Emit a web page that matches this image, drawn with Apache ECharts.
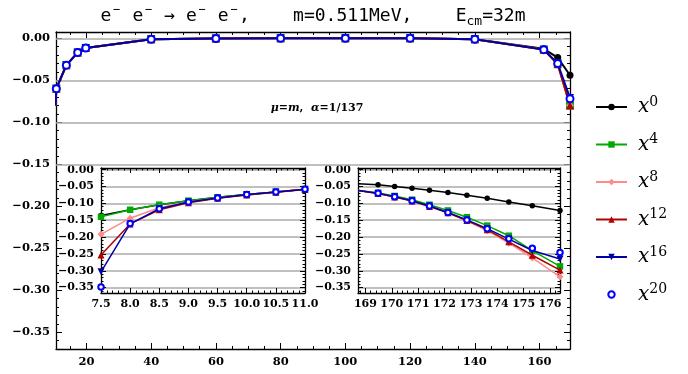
<!DOCTYPE html>
<html><head><meta charset="utf-8">
<script src="https://cdn.jsdelivr.net/npm/echarts@6/dist/echarts.min.js"></script>
<style>html,body{margin:0;padding:0;background:#fff}#c{width:688px;height:374px}</style>
</head><body><div id="c"></div>
<script>
// ---------- data ----------
const seriesNames = ['x0','x4','x8','x12','x16','x20'];
const legendSup = ['0','4','8','12','16','20'];

// main panel
const mainX   = [10.45, 10.7, 13.8, 17.3, 19.8, 40, 60, 80, 100, 120, 140, 161.3, 165.6, 169.4];
const mainY0  = [-0.08, -0.060, -0.032, -0.017, -0.0115, -0.0012, -0.0003, 0, 0, 0, -0.0012, -0.0125, -0.023, -0.044];
const mainY4  = [-0.08, -0.060, -0.032, -0.017, -0.0115, -0.0012, -0.0003, 0, 0, 0, -0.0012, -0.0135, -0.030, -0.080];
const mainY8  = [-0.08, -0.060, -0.032, -0.017, -0.0115, -0.0012, -0.0003, 0, 0, 0, -0.0012, -0.0135, -0.031, -0.080];
const mainY12 = [-0.08, -0.060, -0.032, -0.017, -0.0115, -0.0012, -0.0003, 0, 0, 0, -0.0012, -0.0135, -0.031, -0.080];
const mainY16 = [-0.08, -0.060, -0.032, -0.017, -0.0115, -0.0012, -0.0003, 0, 0, 0, -0.0012, -0.0135, -0.030, -0.071];
const mainY20 = [-0.08, -0.060, -0.032, -0.017, -0.0115, -0.0012, -0.0003, 0, 0, 0, -0.0012, -0.0135, -0.030, -0.072];

// left inset
const leftX   = [7.5, 8.0, 8.5, 9.0, 9.5, 10.0, 10.5, 11.0];
const leftY0  = [-0.136, -0.119, -0.104, -0.092, -0.082, -0.074, -0.066, -0.058];
const leftY4  = [-0.140, -0.119, -0.104, -0.092, -0.082, -0.074, -0.066, -0.058];
const leftY8  = [-0.192, -0.144, -0.113, -0.096, -0.084, -0.075, -0.066, -0.058];
const leftY12 = [-0.253, -0.161, -0.119, -0.098, -0.085, -0.075, -0.067, -0.059];
const leftY16 = [-0.303, -0.161, -0.116, -0.096, -0.084, -0.074, -0.066, -0.058];
const leftY20 = [-0.348, -0.160, -0.116, -0.096, -0.084, -0.074, -0.066, -0.058];

// right inset
const rightX   = [168.72, 169.48, 170.11, 170.77, 171.43, 172.13, 172.85, 173.62, 174.44, 175.33, 176.38];
const rightY0  = [-0.042, -0.045, -0.050, -0.055, -0.061, -0.068, -0.076, -0.085, -0.096, -0.107, -0.121];
const rightY4  = [-0.061, -0.069, -0.078, -0.089, -0.104, -0.121, -0.141, -0.166, -0.196, -0.240, -0.287];
const rightY8  = [-0.062, -0.071, -0.081, -0.093, -0.110, -0.129, -0.152, -0.181, -0.218, -0.262, -0.318];
const rightY12 = [-0.062, -0.071, -0.081, -0.093, -0.109, -0.128, -0.151, -0.178, -0.214, -0.254, -0.298];
const rightY16 = [-0.062, -0.070, -0.080, -0.092, -0.108, -0.127, -0.149, -0.175, -0.206, -0.240, -0.265];
const rightY20 = [-0.062, -0.070, -0.080, -0.092, -0.108, -0.127, -0.149, -0.175, -0.205, -0.233, -0.246];

// ticks
const mainXTicks  = [20, 40, 60, 80, 100, 120, 140, 160];
const yTicks      = [0, -0.05, -0.10, -0.15, -0.20, -0.25, -0.30, -0.35];
const rightXTicks = [169, 170, 171, 172, 173, 174, 175, 176];
const mainGridLines = [0, -0.05, -0.10, -0.15];

// ---------- helpers ----------
function steps(a, b, s){ const r=[]; for(let v=a; v<=b+1e-9; v+=s) r.push(+v.toFixed(4)); return r; }
const FONT = 'DejaVu Serif';
const K = '#000';
const GRIDC = '#ababab';
function fmt2(v){ return (Math.abs(v)<1e-9 ? '0.00' : v.toFixed(2)).replace('-', '\u2212'); }

function ax(gridIndex, position, min, max, extra){
  return Object.assign({
    type:'value', gridIndex, position, min, max, silent:true,
    axisLine:{show:true, onZero:false, lineStyle:{color:K, width:1.3}},
    axisTick:{show:false}, axisLabel:{show:false},
    splitLine:{show:false}, minorTick:{show:false}, minorSplitLine:{show:false}
  }, extra||{});
}
function tick(vals, len){ return {show:true, inside:true, length:len, customValues:vals, lineStyle:{color:K, width:1}}; }
function lab(vals, fmt, size, margin){ return {show:true, customValues:vals, formatter:fmt, fontFamily:FONT, fontWeight:'bold', fontSize:size, color:K, margin}; }
function minorAx(gridIndex, position, min, max, vals, len){
  return ax(gridIndex, position, min, max, {axisLine:{show:false, onZero:false}, axisTick:tick(vals, len)});
}

const MX = [10.6, 169.4], MY = [-0.37, 0.0075];
const LX = [7.5, 11.0], IY = [-0.366, 0.005];
const RX = [168.72, 176.38];

const mainXMinor = steps(15, 165, 5);
const mainYMinor = steps(-0.37, 0, 0.01);
const insetYMinor = steps(-0.36, 0, 0.01);
const rightXMinor = steps(168.8, 176.2, 0.2);

const xAxes = [
  ax(0,'bottom',MX[0],MX[1],{axisTick:tick(mainXTicks,6), axisLabel:lab(mainXTicks, v=>String(v), 11.5, 7)}),
  minorAx(0,'bottom',MX[0],MX[1],mainXMinor,3),
  ax(0,'top',MX[0],MX[1],{axisTick:tick(mainXTicks,6)}),
  minorAx(0,'top',MX[0],MX[1],mainXMinor,3),
  ax(1,'bottom',LX[0],LX[1],{interval:0.5, axisTick:{show:true,inside:true,length:5,lineStyle:{color:K}},
     minorTick:{show:true,splitNumber:5,length:2.5,lineStyle:{color:K}},
     axisLabel:{show:true, formatter:v=>v.toFixed(1), fontFamily:FONT, fontWeight:'bold', fontSize:11, color:K, margin:6}}),
  ax(1,'top',LX[0],LX[1],{interval:0.5, axisTick:{show:true,inside:true,length:5,lineStyle:{color:K}},
     minorTick:{show:true,splitNumber:5,length:2.5,lineStyle:{color:K}}}),
  ax(2,'bottom',RX[0],RX[1],{axisTick:tick(rightXTicks,5), axisLabel:lab(rightXTicks, v=>String(v), 11, 6)}),
  minorAx(2,'bottom',RX[0],RX[1],rightXMinor,2.5),
  ax(2,'top',RX[0],RX[1],{axisTick:tick(rightXTicks,5)}),
  minorAx(2,'top',RX[0],RX[1],rightXMinor,2.5)
];
const insetSplit = {show:true, lineStyle:{color:GRIDC, width:1.5}};
const yAxes = [
  ax(0,'left',MY[0],MY[1],{axisTick:tick(yTicks,6), axisLabel:lab(yTicks, fmt2, 11.5, 6)}),
  minorAx(0,'left',MY[0],MY[1],mainYMinor,3),
  ax(0,'right',MY[0],MY[1],{axisTick:tick(yTicks,6)}),
  minorAx(0,'right',MY[0],MY[1],mainYMinor,3),
  ax(1,'left',IY[0],IY[1],{axisTick:tick(yTicks,5), axisLabel:lab(yTicks, fmt2, 11, 7), splitLine:insetSplit}),
  minorAx(1,'left',IY[0],IY[1],insetYMinor,2.5),
  ax(1,'right',IY[0],IY[1],{axisTick:tick(yTicks,5)}),
  minorAx(1,'right',IY[0],IY[1],insetYMinor,2.5),
  ax(2,'left',IY[0],IY[1],{axisTick:tick(yTicks,5), axisLabel:lab(yTicks, fmt2, 11, 7), splitLine:insetSplit}),
  minorAx(2,'left',IY[0],IY[1],insetYMinor,2.5),
  ax(2,'right',IY[0],IY[1],{axisTick:tick(yTicks,5)}),
  minorAx(2,'right',IY[0],IY[1],insetYMinor,2.5)
];

const DOWN = 'path://M0,0 L10,0 L5,9 Z';
const sty = {
  x0:  {color:'#000000', symbol:'circle',   size:[7,5.5,5.5]},
  x4:  {color:'#00aa00', symbol:'rect',     size:[8,6.5,6.5]},
  x8:  {color:'#ff8a8a', symbol:'diamond',  size:[8,7,7]},
  x12: {color:'#b00000', symbol:'triangle', size:[8,7,7]},
  x16: {color:'#0000a8', symbol:DOWN,       size:[8,7,7]},
  x20: {color:'#0000ff', symbol:'emptyCircle', size:[7,5.5,5.5], noLine:true}
};
const panels = [
  {xi:0, yi:0, xs:mainX,  ys:[mainY0,mainY4,mainY8,mainY12,mainY16,mainY20], lw:2},
  {xi:4, yi:4, xs:leftX,  ys:[leftY0,leftY4,leftY8,leftY12,leftY16,leftY20], lw:1.5},
  {xi:6, yi:8, xs:rightX, ys:[rightY0,rightY4,rightY8,rightY12,rightY16,rightY20], lw:1.5, edgeNoSymbol:true}
];

const series = [];
series.push({type:'line', name:'_grid', xAxisIndex:0, yAxisIndex:0, data:[[50,0]], symbol:'none',
  lineStyle:{width:0}, z:1, silent:true,
  markLine:{silent:true, symbol:'none', label:{show:false}, animation:false,
    lineStyle:{color:GRIDC, width:1.5, type:'solid'},
    data: mainGridLines.map(v=>({yAxis:v}))}});

panels.forEach((p, pi)=>{
  seriesNames.forEach((n, si)=>{
    const s = sty[n];
    const data = p.xs.map((x,i)=>{
      const item = {value:[x, p.ys[si][i]]};
      if (p.edgeNoSymbol && i===0) item.symbol = 'none';
      return item;
    });
    series.push({
      type:'line', name:n, xAxisIndex:p.xi, yAxisIndex:p.yi, data,
      symbol:s.symbol, symbolSize:s.size[pi], showAllSymbol:true,
      itemStyle:{color:s.color, borderColor:s.color, borderWidth: s.noLine?1.5:0},
      lineStyle:{color:s.color, width: s.noLine?0:p.lw},
      z: 2+si, animation:false, silent:true
    });
  });
});

const MONO = 'DejaVu Sans Mono';
const chart = echarts.init(document.getElementById('c'), null, {renderer:'canvas'});
chart.setOption({
  animation:false,
  backgroundColor:'#fff',
  title:[
    {text:'{n|e}{p|\u2212}{n| e}{p|\u2212}{n| \u2192 e}{p|\u2212}{n| e}{p|\u2212}{n|,    m=0.511MeV,    E}{b|cm}{n|=32m}',
     left:313, textAlign:'center', top:4, padding:0,
     textStyle:{fontWeight:'normal', rich:{
       n:{fontFamily:MONO, fontSize:18, fontWeight:'normal', lineHeight:24, color:'#000'},
       p:{fontFamily:MONO, fontSize:12, fontWeight:'normal', lineHeight:12, verticalAlign:'top', color:'#000', padding:[0,1.5,0,1.5]},
       b:{fontFamily:MONO, fontSize:13, fontWeight:'normal', lineHeight:14, verticalAlign:'bottom', color:'#000'}
     }}},
    {text:'{i|\u03bc}{n|=}{i|m}{n|,  }{i|\u03b1}{n|=1/137}',
     left:317, textAlign:'center', top:101, padding:0,
     textStyle:{rich:{
       i:{fontFamily:FONT, fontWeight:'bold', fontStyle:'italic', fontSize:11, lineHeight:14, color:'#000'},
       n:{fontFamily:FONT, fontWeight:'bold', fontSize:11, lineHeight:14, color:'#000'}
     }}}
  ],
  legend:{
    orient:'vertical', left:595, top:90, padding:[5,5,5,0], itemWidth:31, itemHeight:8, itemGap:15.5,
    data: seriesNames.map(n=>({name:n})),
    formatter: name => '{x|x}{s|' + legendSup[seriesNames.indexOf(name)] + '}',
    textStyle:{rich:{
      x:{fontFamily:FONT, fontStyle:'italic', fontSize:20, lineHeight:24, color:'#000', padding:[0,0,0,6]},
      s:{fontFamily:FONT, fontSize:14, lineHeight:18, verticalAlign:'top', color:'#000'}
    }},
    selectedMode:false
  },
  grid:[
    {left:56, top:32, width:514, height:317, outerBoundsMode:'none', containLabel:false},
    {left:101, top:168, width:204, height:125, outerBoundsMode:'none', containLabel:false},
    {left:358, top:168, width:202, height:125, outerBoundsMode:'none', containLabel:false}
  ],
  xAxis:xAxes, yAxis:yAxes, series
});
</script></body></html>
